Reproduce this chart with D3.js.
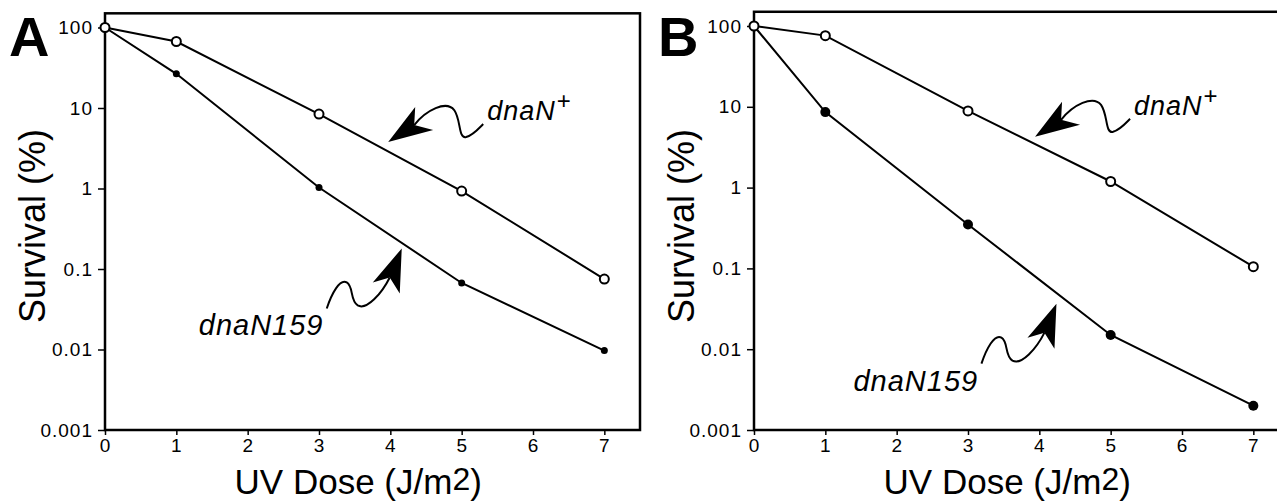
<!DOCTYPE html>
<html>
<head>
<meta charset="utf-8">
<script src="https://cdn.jsdelivr.net/npm/d3@7"></script>
<style>
  html,body{margin:0;padding:0;background:#fff;}
  svg{display:block;font-family:"Liberation Sans",Arial,Helvetica,sans-serif;}
</style>
</head>
<body>
<svg id="chart" width="1277" height="503"></svg>
<script>
'use strict';
// UV survival curves, dnaN+ vs dnaN159 (panels A and B)
const doses = [0, 1, 3, 5, 7];
const survivalWildA = [100, 67, 8.4, 0.93, 0.075];
const survivalMutA = [100, 26.6, 1.03, 0.067, 0.0097];
const survivalWildB = [100, 76, 8.9, 1.19, 0.105];
const survivalMutB = [100, 8.6, 0.35, 0.015, 0.002];
const xTicks = [0, 1, 2, 3, 4, 5, 6, 7];
const yTicks = [100, 10, 1, 0.1, 0.01, 0.001];
const yTickLabels = ['100', '10', '1', '0.1', '0.01', '0.001'];
const wildLabel = 'dnaN';
const mutLabel = 'dnaN159';
// where each arrow points, in data units (dose, survival)
const wildArrowA = [3.97, 3.78];
const mutArrowA = [4.16, 0.18];
const wildArrowB = [3.94, 4.25];
const mutArrowB = [4.24, 0.0366];

class Panel {
  constructor(options){
    this.letter = options.letter;
    this.left = options.left;
    this.yTop100 = options.yTop100;
    this.wild = options.wild;
    this.mut = options.mut;
    this.mutR = options.mutR || 3.5;
    this.wildArrow = options.wildArrow;
    this.mutArrow = options.mutArrow;
    this.bottom = 430;
    this.x = d3.scaleLinear().domain([0, 7.5]).range([this.left, this.left + 535]);
    this.y = d3.scaleLog().domain([0.001, 100]).range([this.bottom, this.yTop100]);
  }
  render(svg){
    const {x, y, left, bottom} = this;
    const g = svg.append('g');
    const top = y(150);

    // frame
    g.append('rect')
      .attr('x', left).attr('y', top)
      .attr('width', x(7.5) - left).attr('height', bottom - top)
      .attr('fill', 'none').attr('stroke', '#000').attr('stroke-width', 2.5);

    const yAxis = g.append('g')
      .attr('transform', `translate(${left},0)`)
      .call(d3.axisLeft(y).tickValues(yTicks)
        .tickFormat((d, i) => yTickLabels[i]).tickSize(7).tickPadding(5).tickSizeOuter(0));
    const xAxis = g.append('g')
      .attr('transform', `translate(0,${bottom})`)
      .call(d3.axisBottom(x).tickValues(xTicks).tickSize(5).tickPadding(4).tickSizeOuter(0));
    [xAxis, yAxis].forEach(a => {
      a.select('.domain').remove();
      a.selectAll('line').attr('stroke', '#000').attr('stroke-width', 1.5);
      a.selectAll('text').attr('font-size', 19).attr('letter-spacing', 1).attr('fill', '#000')
        .attr('font-family', '"Liberation Sans",Arial,sans-serif');
    });

    // titles
    g.append('text')
      .attr('transform', `translate(${left - 60},226) rotate(-90)`)
      .attr('text-anchor', 'middle').attr('font-size', 36)
      .text('Survival (%)');
    const xt = g.append('text')
      .attr('x', x(3.55)).attr('y', 494)
      .attr('text-anchor', 'middle').attr('font-size', 35);
    xt.append('tspan').text('UV Dose (J/m');
    xt.append('tspan').attr('dy', -4).attr('font-size', 32).text('2');
    xt.append('tspan').attr('dy', 4).text(')');
    g.append('text')
      .attr('x', left - 96).attr('y', 56)
      .attr('font-size', 56).attr('font-weight', 'bold')
      .text(this.letter);

    // curves
    const line = d3.line().x((d, i) => x(doses[i])).y(d => y(d));
    [this.mut, this.wild].forEach(vals => {
      g.append('path').datum(vals).attr('d', line)
        .attr('fill', 'none').attr('stroke', '#000').attr('stroke-width', 2);
    });
    g.selectAll('.mut').data(this.mut).join('circle')
      .attr('class', 'mut')
      .attr('cx', (d, i) => x(doses[i])).attr('cy', d => y(d))
      .attr('r', this.mutR).attr('fill', '#000');
    g.selectAll('.wild').data(this.wild).join('circle')
      .attr('class', 'wild')
      .attr('cx', (d, i) => x(doses[i])).attr('cy', d => y(d))
      .attr('r', 4.5).attr('fill', '#fff').attr('stroke', '#000').attr('stroke-width', 2);

    this.wildNote(g);
    this.mutNote(g);
  }
  wildNote(g){
    const {x, y, wildArrow} = this;
    const tx = x(wildArrow[0]), ty = y(wildArrow[1]);
    const a = g.append('g').attr('transform', `translate(${tx},${ty})`);
    a.append('path').attr('d', 'M0,0 L27,-35 L26,-17 L45,-12 Z').attr('fill', '#000');
    a.append('path')
      .attr('d', 'M26,-17 C38,-32 58,-42 66,-32 C73,-22 70,-3 78,-5 C85,-7 90,-13 95,-18')
      .attr('fill', 'none').attr('stroke', '#000').attr('stroke-width', 2);
    const t = a.append('text').attr('x', 99).attr('y', -22)
      .attr('font-size', 27).attr('font-style', 'italic').attr('letter-spacing', 1);
    t.append('tspan').text(wildLabel);
    t.append('tspan').attr('dx', 1).attr('dy', -11).attr('font-size', 24).attr('font-style', 'normal').text('+');
  }
  mutNote(g){
    const {x, y, mutArrow} = this;
    const tx = x(mutArrow[0]), ty = y(mutArrow[1]);
    const a = g.append('g').attr('transform', `translate(${tx},${ty})`);
    a.append('path').attr('d', 'M0,0 L-2,45 L-12,29 L-29,34 Z').attr('fill', '#000');
    a.append('path')
      .attr('d', 'M-12,29 C-20,45 -35,62 -44,57 C-52,52 -48,38 -55,34 C-62,30 -70,45 -75,60')
      .attr('fill', 'none').attr('stroke', '#000').attr('stroke-width', 2);
    a.append('text').attr('x', -203).attr('y', 87)
      .attr('font-size', 29).attr('font-style', 'italic').attr('letter-spacing', 1)
      .text(mutLabel);
  }
}

const svg = d3.select('#chart');
new Panel({letter: 'A', left: 105, yTop100: 27.5, wild: survivalWildA, mut: survivalMutA,
  mutR: 3.5, wildArrow: wildArrowA, mutArrow: mutArrowA}).render(svg);
new Panel({letter: 'B', left: 754, yTop100: 26, wild: survivalWildB, mut: survivalMutB,
  mutR: 5, wildArrow: wildArrowB, mutArrow: mutArrowB}).render(svg);
</script>
</body>
</html>
